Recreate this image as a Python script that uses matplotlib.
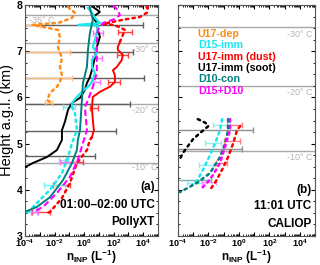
import numpy as np
import matplotlib.pyplot as plt
from matplotlib.ticker import FixedLocator, MultipleLocator, LogLocator, FuncFormatter, NullFormatter

plt.rcParams['font.family'] = ['Liberation Sans', 'DejaVu Sans']
plt.rcParams['font.weight'] = 'bold'
plt.rcParams['mathtext.fontset'] = 'custom'
plt.rcParams['mathtext.rm'] = 'Liberation Sans:bold'
plt.rcParams['mathtext.bf'] = 'Liberation Sans:bold'
plt.rcParams['mathtext.it'] = 'Liberation Sans:bold:italic'
plt.rcParams['mathtext.default'] = 'bf'

# --- panel (a): PollyXT, heights in km, values as log10(n_INP / L^-1) ---
dep_a_h = [7.96, 7.83, 7.72, 7.61, 7.59, 7.57, 7.46, 7.31, 7.09, 6.85, 6.66, 6.48, 6.33, 6.23, 6.10, 5.94, 5.90]
dep_a_log = [-1.1, -0.62, -0.82, -1.77, -2.78, -3.5, -1.77, -1.64, -1.77, -1.5, -1.64, -1.5, -1.64, -1.84, -2.3, -2.5, -2.3]

dust_mid_h = [5.14, 5.29, 5.51, 5.77, 6.01, 6.12, 6.23, 6.33, 6.48, 6.59, 6.66, 6.81, 6.92, 7.03, 7.09, 7.20]
dust_mid_log = [0.53, 0.66, 0.59, 0.53, 0.59, 1.07, 1.74, 2.08, 2.08, 1.95, 2.22, 2.55, 2.62, 2.28, 2.28, 2.42]
dust_top_h = [7.20, 7.35, 7.46, 7.52, 7.57, 7.59, 7.68, 7.74, 7.83, 7.94, 8.0]
dust_top_log = [2.42, 2.62, 2.76, 2.42, 1.95, 1.27, 2.62, 3.77, 4.24, 4.31, 3.97]
dust_low_h = [5.14, 5.08, 4.86, 4.58, 4.15, 3.82, 3.52, 3.48]
dust_low_log = [0.53, 0.39, 0.19, -0.49, -0.96, -1.5, -2.31, -2.65]

imm_mid_h = [7.94, 7.83, 7.72, 7.61, 7.57, 7.55, 7.50, 7.39, 7.24, 7.09, 6.96, 6.81, 6.66, 6.53, 6.38, 6.27, 6.12, 6.01, 5.88, 5.79]
imm_mid_log = [0.26, 0.53, 0.73, 1.07, -0.4, 0.93, 0.93, 0.86, 0.73, 0.59, 0.86, 0.53, 0.53, 0.73, 0.59, 0.39, -0.15, -0.49, -0.82, -0.82]
imm_low_h = [5.79, 5.66, 5.29, 5.01, 4.71, 4.36, 4.00, 3.78, 3.56, 3.52]
imm_low_log = [-0.82, -0.62, -0.49, -0.82, -1.09, -1.5, -2.31, -2.99, -3.66, -3.86]

soot_a_h = [4.49, 4.58, 4.71, 4.86, 5.08, 5.29, 5.47, 5.73, 5.88, 5.99, 6.16, 6.31, 6.44, 6.66, 6.87, 7.09, 7.31, 7.46, 7.61, 7.74, 7.85, 7.96]
soot_a_log = [-4.0, -3.46, -2.51, -1.84, -1.5, -1.5, -1.3, -1.09, -0.82, -0.28, 0.05, 0.19, 0.39, 0.59, 0.73, 0.86, 1.07, 0.93, 0.86, 0.59, 1.07, 0.59]

con_a_h = [7.94, 7.68, 7.39, 7.03, 6.66, 6.31, 5.94, 5.29, 5.08, 4.86, 4.58, 4.21, 3.84, 3.63, 3.54]
con_a_log = [0.39, 0.59, 0.39, 0.26, 0.19, -0.08, -0.15, -0.28, -0.42, -0.49, -0.82, -1.43, -2.31, -3.19, -3.86]

sum_a_h = [8.0, 7.89, 7.78, 7.68, 7.61, 7.46, 7.18, 6.87, 6.53, 6.23, 5.94, 5.79, 5.29, 5.01, 4.65, 4.28, 3.93, 3.63, 3.52]
sum_a_log = [1.95, 2.28, 2.42, 1.95, 1.27, 0.93, 0.86, 0.86, 0.86, 0.59, 0.26, 0.05, 0.19, -0.08, -0.42, -0.96, -1.84, -2.78, -3.46]

# error bars (height, low, high) in log10 units
soot_err_a = ([7.57, 6.98, 6.43, 5.85, 5.27, 4.73], [-6, -6, -6, -6, -6, -6], [3.97, 3.3, 4.04, 3.1, 2.15, 0.73])
dep_err_a = ([7.57, 6.98, 6.42, 5.87], [-6, -6, -6, -2.65], [-3.0, -0.96, -0.82, -2.2])
dust_err_a = ([7.42, 6.92, 6.33, 5.77, 4.60, 4.10, 3.52], [2.28, 2.2, 1.6, 0.4, -1.3, -2.1, -3.5], [3.23, 2.96, 2.4, 0.93, -0.08, -0.96, -2.3])
imm_err_a = ([5.80, 4.65, 4.10, 3.52], [-1.4, -1.7, -2.7, -4.0], [-0.62, -1.09, -1.3, -3.2])
sum_err_a = ([7.39, 6.85, 6.33, 4.60, 3.52], [0.6, 0.5, 0.6, -1.6, -3.6], [1.3, 1.2, 1.1, -0.5, -3.1])

# --- panel (b): CALIOP ---
soot_b_h = [5.53, 5.45, 5.38, 5.23, 5.10, 4.95, 4.80, 4.67]
soot_b_log = [-2.7, -2.2, -2.0, -2.55, -3.0, -3.34, -3.67, -3.87]
imm_b_h = [5.53, 5.29, 5.00, 4.75, 4.43, 4.20, 4.10]
imm_b_log = [-1.1, -1.24, -1.57, -1.9, -2.36, -2.75, -3.08]
con_b_h = [5.53, 5.29, 5.00, 4.71, 4.36, 4.15, 3.95]
con_b_log = [-0.71, -0.71, -0.91, -1.24, -1.9, -2.75, -3.87]
sum_b_h = [5.53, 5.29, 4.93, 4.58, 4.32, 4.15, 4.04]
sum_b_log = [-0.58, -0.58, -0.91, -1.24, -1.7, -2.09, -2.42]
dust_b_h = [5.38, 5.29, 5.00, 4.71, 4.43, 4.15, 4.00]
dust_b_log = [0.08, -0.12, -0.38, -0.71, -1.11, -1.57, -1.9]

soot_err_b = ([5.30, 4.88], [-6, -6], [0.9, 0.2])
imm_err_b = ([5.40, 5.02, 4.54, 4.15], [-1.7, -2.2, -2.6, -3.4], [-0.6, -1.2, -1.7, -2.4])
dust_err_b = ([5.40, 5.05, 4.58], [-0.8, -1.0, -1.5], [0.2, 0.1, -0.8])
sum_err_b = ([4.17], [-2.4], [-1.5])
con_err_b = ([4.21], [-4.3], [-1.8])

temps = ['-35° C', '-30° C', '-20° C', '-10° C']
temp_a_h = [7.79, 7.18, 5.85, 4.58]
temp_b_h = [7.53, 6.25, 4.84]

names = ['U17-dep', 'D15-imm', 'U17-imm (dust)', 'U17-imm (soot)', 'D10-con', 'D15+D10']
colors = ['#ff8c1a', '#19e8ef', '#ff0000', '#000000', '#00807c', '#ff00ff']
ORANGE, CYAN, RED, BLACK, TEAL, MAGENTA = colors


def lin(v):
    return 10.0 ** np.asarray(v, dtype=float)


def errbars(ax, err, color):
    h, lo, hi = err
    lo, hi = lin(lo), lin(hi)
    mid = np.sqrt(lo * hi)
    ax.errorbar(mid, h, xerr=[mid - lo, hi - mid], fmt='none', ecolor=color,
                elinewidth=1.0, capsize=2, capthick=1.0, zorder=2)


def style(ax, show_y):
    ax.set_xscale('log')
    ax.set_xlim(1e-4, 1e5)
    ax.set_ylim(3, 8)
    ax.xaxis.set_major_locator(FixedLocator([10.0 ** k for k in range(-4, 6)]))
    ax.xaxis.set_major_formatter(FuncFormatter(
        lambda v, p: r'$10^{%d}$' % round(np.log10(v)) if round(np.log10(v)) % 2 == 0 and v < 1e5 else ''))
    ax.xaxis.set_minor_locator(LogLocator(base=10, subs=np.arange(2, 10), numticks=100))
    ax.xaxis.set_minor_formatter(NullFormatter())
    ax.yaxis.set_major_locator(MultipleLocator(1))
    ax.yaxis.set_minor_locator(MultipleLocator(0.25))
    ax.tick_params(which='both', direction='in', top=True, right=True, labelsize=7.5, pad=2)
    ax.tick_params(axis='x', labelsize=6.5, pad=1)
    ax.tick_params(which='major', length=3, width=0.8)
    ax.tick_params(which='minor', length=1.5, width=0.6)
    if not show_y:
        ax.tick_params(labelleft=False)
    for s in ax.spines.values():
        s.set_color('#555555')
        s.set_linewidth(0.8)
    ax.text(0.5, -0.092, r'n$_{INP}$ (L$^{-1}$)', fontsize=8.5, ha='center', va='center',
            transform=ax.transAxes)


fig = plt.figure(figsize=(3.2, 2.65), dpi=100)
ax_a = fig.add_axes([25 / 320, 29 / 265, 133 / 320, 231 / 265])
ax_b = fig.add_axes([178 / 320, 29 / 265, 137 / 320, 231 / 265])

# ---------- panel (a) ----------
for h in temp_a_h:
    ax_a.axhline(h, color='#a8a8a8', lw=1.0, zorder=1)
errbars(ax_a, soot_err_a, '#606060')
errbars(ax_a, dep_err_a, '#ffbf80')
errbars(ax_a, dust_err_a, '#ff4040')
errbars(ax_a, imm_err_a, '#70f0f0')
errbars(ax_a, sum_err_a, '#ff70ff')

dotted = dict(ls=':', lw=1.8, dash_capstyle='round')
ax_a.plot(lin(dep_a_log), dep_a_h, color=ORANGE, zorder=3, **dotted)
ax_a.plot(lin(soot_a_log), soot_a_h, color=BLACK, lw=1.4, zorder=4)
ax_a.plot(lin(imm_mid_log), imm_mid_h, color=CYAN, lw=1.6, zorder=4)
ax_a.plot(lin(imm_low_log), imm_low_h, color=CYAN, zorder=4, **dotted)
ax_a.plot(lin(con_a_log), con_a_h, color=TEAL, lw=1.4, zorder=5)
ax_a.plot(lin(sum_a_log), sum_a_h, color=MAGENTA, lw=1.5, ls=(0, (3, 1.5)), zorder=5)
ax_a.plot(lin(dust_mid_log), dust_mid_h, color=RED, lw=1.4, zorder=4)
ax_a.plot(lin(dust_top_log), dust_top_h, color=RED, zorder=4, **dotted)
ax_a.plot(lin(dust_low_log), dust_low_h, color=RED, zorder=4, **dotted)

style(ax_a, True)
ax_a.set_ylabel('Height a.g.l. (km)', fontsize=10.5, labelpad=2)

tk = dict(color='#b4b4b4', fontsize=6.5, fontweight='normal', va='center')
ax_a.text(0.03, 7.66, temps[0], ha='left', transform=ax_a.get_yaxis_transform(), **tk)
ax_a.text(0.995, 7.03, temps[1], ha='right', transform=ax_a.get_yaxis_transform(), **tk)
ax_a.text(0.995, 5.72, temps[2], ha='right', transform=ax_a.get_yaxis_transform(), **tk)
ax_a.text(0.995, 4.49, temps[3], ha='right', transform=ax_a.get_yaxis_transform(), **tk)

ax_a.text(0.975, 4.05, '(a)', ha='right', va='center', fontsize=8.5, transform=ax_a.get_yaxis_transform())
ax_a.text(0.975, 3.68, '01:00–02:00 UTC', ha='right', va='center', fontsize=8.5, transform=ax_a.get_yaxis_transform())
ax_a.text(0.975, 3.31, 'PollyXT', ha='right', va='center', fontsize=8.5, transform=ax_a.get_yaxis_transform())

# ---------- panel (b) ----------
for h in temp_b_h:
    ax_b.axhline(h, color='#a8a8a8', lw=1.0, zorder=1)
errbars(ax_b, soot_err_b, '#909090')
errbars(ax_b, imm_err_b, '#90f0f0')
errbars(ax_b, dust_err_b, '#ff8080')
errbars(ax_b, sum_err_b, '#ff90ff')
errbars(ax_b, con_err_b, '#80b0b0')

ax_b.plot(lin(soot_b_log), soot_b_h, color=BLACK, zorder=4, **dotted)
ax_b.plot(lin(imm_b_log), imm_b_h, color=CYAN, zorder=4, **dotted)
ax_b.plot(lin(dust_b_log), dust_b_h, color=RED, zorder=4, **dotted)
ax_b.plot(lin(con_b_log), con_b_h, color=TEAL, zorder=5, **dotted)
ax_b.plot(lin(sum_b_log), sum_b_h, color=MAGENTA, zorder=5, **dotted)

style(ax_b, False)

ax_b.text(0.985, 7.36, temps[1], ha='right', transform=ax_b.get_yaxis_transform(), **tk)
ax_b.text(0.985, 6.1, temps[2], ha='right', transform=ax_b.get_yaxis_transform(), **tk)
ax_b.text(0.985, 4.69, temps[3], ha='right', transform=ax_b.get_yaxis_transform(), **tk)

ax_b.text(0.975, 4.0, '(b)', ha='right', va='center', fontsize=8.5, transform=ax_b.get_yaxis_transform())
ax_b.text(0.975, 3.65, '11:01 UTC', ha='right', va='center', fontsize=8.5, transform=ax_b.get_yaxis_transform())
ax_b.text(0.975, 3.27, 'CALIOP', ha='right', va='center', fontsize=8.5, transform=ax_b.get_yaxis_transform())

# legend as coloured text lines
for i, (n, c) in enumerate(zip(names, colors)):
    ax_b.text(0.145, 7.37 - i * 0.245, n, color=c, ha='left', va='center', fontsize=7.7,
              transform=ax_b.get_yaxis_transform())

fig.savefig('out.png', dpi=100)
